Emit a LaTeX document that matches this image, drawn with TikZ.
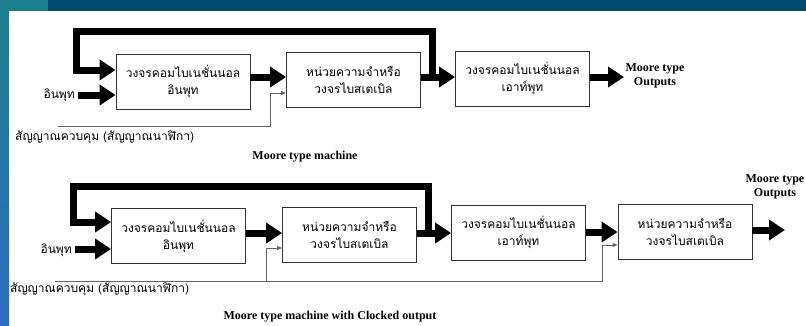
\documentclass[tikz,border=0pt]{standalone}
\usepackage{fontspec}
\setmainfont{Liberation Serif}
\newfontfamily\thaifont[Script=Thai]{Loma}
\usetikzlibrary{arrows.meta}
\definecolor{barteal}{HTML}{1B7E8C}
\definecolor{bardark}{HTML}{014A6D}
\definecolor{stripblue}{HTML}{2C6DC0}
\definecolor{boxline}{HTML}{333333}
\definecolor{ctrl}{HTML}{666666}
\tikzset{
  blockbox/.style={draw=boxline, line width=0.9pt, fill=white, minimum width=134pt, minimum height=55pt, align=center, inner sep=0pt, font=\thaifont\fontsize{12}{17}\selectfont},
  thick arrow/.style={line width=7pt, -{Triangle[length=16pt,width=20pt]}, line join=miter},
  ctrl arrow/.style={draw=ctrl, line width=0.9pt, -{Triangle[length=5pt,width=4pt]}},
  thailabel/.style={font=\thaifont\fontsize{12}{16}\selectfont, inner sep=0pt},
  latinlabel/.style={font=\bfseries\fontsize{12}{14}\selectfont, inner sep=0pt, align=center},
}
\begin{document}
\begin{tikzpicture}[x=1pt,y=-1pt]
\useasboundingbox (0,0) rectangle (806,325);
% background
\fill[bardark] (0,0) rectangle (806,11);
\fill[barteal] (0,0) rectangle (48,11);
\shade[top color=barteal, bottom color=stripblue] (0,11) rectangle (9,325);
\fill[barteal] (0,0) rectangle (9,11);

% ---------- top diagram ----------
\node[blockbox] (a1) at (183,81.5) {วงจรคอมไบเนชั่นนอล\\อินพุท};
\node[blockbox] (a2) at (353.5,79.5) {หน่วยความจำหรือ\\วงจรไบสเตเบิล};
\node[blockbox] (a3) at (522.5,78.5) {วงจรคอมไบเนชั่นนอล\\เอาท์พุท};
\node[thailabel, anchor=east] (ain) at (75,95) {อินพุท};
\node[thailabel, anchor=west] (actl) at (15,137) {สัญญาณควบคุม (สัญญาณนาฬิกา)};
\node[latinlabel] (aout) at (655,76) {Moore type\\Outputs};
\node[latinlabel] (acap) at (305,157) {Moore type machine};
\coordinate (afb0) at (432,77);
\coordinate (afb1) at (432,31.5);
\coordinate (afb2) at (76.5,31.5);
\coordinate (afb3) at (76.5,70);
\coordinate (aoutend) at (624,77);
\coordinate (actl0) at (58,126);
\coordinate (actl1) at (270,126);
\coordinate (actl2) at (270,93);

\draw[thick arrow] (a1.east |- 0,77) -- (a2.west |- 0,77);
\draw[thick arrow] (a2.east |- 0,77) -- (a3.west |- 0,77);
\draw[thick arrow] (afb0) -- (afb1) -- (afb2) -- (afb3) -- (a1.west |- afb3);
\draw[thick arrow] (ain.east |- 0,95) ++(3,0) -- (a1.west |- 0,95);
\draw[thick arrow] (a3.east |- aoutend) -- (aoutend);
\draw[ctrl arrow] (actl0) -- (actl1) -- (actl2) -- (a2.west |- actl2);

% ---------- bottom diagram ----------
\node[blockbox] (b1) at (178.5,236) {วงจรคอมไบเนชั่นนอล\\อินพุท};
\node[blockbox] (b2) at (349.5,234.5) {หน่วยความจำหรือ\\วงจรไบสเตเบิล};
\node[blockbox] (b3) at (518.5,232.5) {วงจรคอมไบเนชั่นนอล\\เอาท์พุท};
\node[blockbox] (b4) at (685,232) {หน่วยความจำหรือ\\วงจรไบสเตเบิล};
\node[thailabel, anchor=east] (bin) at (72,250) {อินพุท};
\node[thailabel, anchor=west] (bctl) at (10,289) {สัญญาณควบคุม (สัญญาณนาฬิกา)};
\node[latinlabel, anchor=north east] (bout) at (804.5,174) {Moore type\\Outputs};
\node[latinlabel] (bcap) at (330,317) {Moore type machine with Clocked output};
\coordinate (bfb0) at (428,233);
\coordinate (bfb1) at (428,186);
\coordinate (bfb2) at (73.5,186);
\coordinate (bfb3) at (73.5,222);
\coordinate (boutend) at (785,230);
\coordinate (bctl0) at (55,281);
\coordinate (bctl1) at (602,281);
\coordinate (bctl2) at (602,245);
\coordinate (bctl3) at (266,281);
\coordinate (bctl4) at (266,248);

\draw[thick arrow] (b1.east |- 0,233) -- (b2.west |- 0,233);
\draw[thick arrow] (b2.east |- 0,233) -- (b3.west |- 0,233);
\draw[thick arrow] (b3.east |- 0,232) -- (b4.west |- 0,232);
\draw[thick arrow] (bfb0) -- (bfb1) -- (bfb2) -- (bfb3) -- (b1.west |- bfb3);
\draw[thick arrow] (bin.east |- 0,249) ++(3,0) -- (b1.west |- 0,249);
\draw[thick arrow] (b4.east |- boutend) -- (boutend);
\draw[ctrl arrow] (bctl0) -- (bctl1) -- (bctl2) -- (b4.west |- bctl2);
\draw[ctrl arrow] (bctl3) -- (bctl4) -- (b2.west |- bctl4);
\end{tikzpicture}
\end{document}
